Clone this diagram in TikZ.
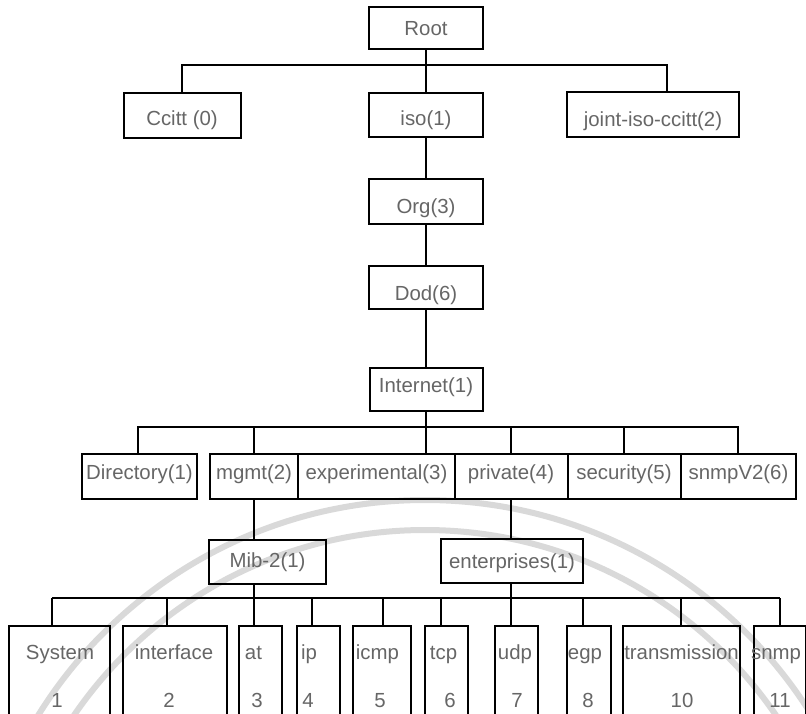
\documentclass[tikz,border=0pt]{standalone}
\usepackage{fontspec}
\setmainfont{Liberation Sans}
% shift a box label down by #1 pt without changing the box
\newcommand\lowered[2]{\raisebox{-#1pt}{#2}}
\begin{document}
\begin{tikzpicture}[x=1pt,y=-1pt,
  txt/.style={text=black!60, font=\fontsize{20.4}{24}\selectfont},
  box/.style={txt, draw=black, line width=2pt, inner sep=0pt,
              text height=14.6pt, text depth=0pt},
  wire/.style={line width=2pt, draw=black},
  lbl/.style={txt, inner sep=0pt, anchor=base},
  ring/.style={draw=black!15, line width=6pt}
]
\useasboundingbox (0,0) rectangle (806,714);
\clip (0,0) rectangle (806,714);
\fill[white] (0,0) rectangle (806,714);

% faint seal in the background
\draw[ring] (425,955) circle[radius=455pt];
\draw[ring] (425,955) circle[radius=425pt];

% top levels
\node[box, minimum width=114pt, minimum height=42pt] (root) at (426,28) {Root};
\node[box, minimum width=117pt, minimum height=45pt] (ccitt) at (182,115.5) {\lowered{2.5}{Ccitt (0)}};
\node[box, minimum width=114pt, minimum height=44pt] (iso) at (426,115) {\lowered{3.5}{iso(1)}};
\node[box, minimum width=172pt, minimum height=45pt] (joint) at (653,114.5) {\lowered{4.5}{joint-iso-ccitt(2)}};
\node[box, minimum width=114pt, minimum height=45pt] (org) at (426,201.5) {\lowered{5}{Org(3)}};
\node[box, minimum width=114pt, minimum height=43pt] (dod) at (426,287.5) {\lowered{6}{Dod(6)}};
\node[box, minimum width=113pt, minimum height=43pt] (internet) at (426,389.5) {\lowered{-4}{Internet(1)}};

% children of internet
\node[box, minimum width=115pt, minimum height=45pt] (dir) at (139.5,476.5) {\lowered{-4.5}{Directory(1)}};
\node[box, minimum width=88pt, minimum height=45pt] (mgmt) at (254,476.5) {\lowered{-4.5}{mgmt(2)}};
\node[box, minimum width=157pt, minimum height=45pt] (exp) at (376.5,476.5) {\lowered{-4.5}{experimental(3)}};
\node[box, minimum width=113pt, minimum height=45pt] (priv) at (511,476.5) {\lowered{-4.5}{private(4)}};
\node[box, minimum width=113pt, minimum height=45pt] (sec) at (624,476.5) {\lowered{-4.5}{security(5)}};
\node[box, minimum width=115pt, minimum height=45pt] (snmpv) at (738.5,476.5) {\lowered{-4.5}{snmpV2(6)}};

\node[box, minimum width=117pt, minimum height=44pt] (mib) at (267.5,562) {\lowered{-2}{Mib-2(1)}};
\node[box, minimum width=142pt, minimum height=44pt] (ent) at (512,561) {enterprises(1)};

% Mib-2 groups (open at the bottom edge)
\foreach \n/\x/\w in {sys/59.5/101, iface/175/104, atb/260.5/43, ipb/318.5/43,
                      icmp/382/58, tcp/446.5/43, udp/516.5/43, egp/589/44,
                      trans/681.5/117, snmp/779.5/52}
  \node[box, minimum width=\w pt, minimum height=134pt] (\n) at (\x,693) {};

\foreach \n/\x/\t in {sysT/60/System, ifaceT/174/interface, atT/253.5/at, ipT/309/ip,
                      icmpT/377.5/icmp, tcpT/443.5/tcp, udpT/515/udp, egpT/585/egp,
                      transT/681.5/transmission, snmpT/776/snmp}
  \node[lbl] (\n) at (\x,659) {\t};
\foreach \n/\x/\t in {sysN/57/1, ifaceN/169/2, atN/257/3, ipN/308/4, icmpN/380/5,
                      tcpN/450/6, udpN/517/7, egpN/588/8, transN/682/10, snmpN/780/11}
  \node[lbl] (\n) at (\x,707) {\t};

% connectors
\coordinate (busA) at (426,65);
\coordinate (busB) at (426,427);
\draw[wire] (root.south) -- (iso.north);
\draw[wire] (ccitt.north) |- (busA) -| ([xshift=14pt]joint.north);
\draw[wire] (iso.south) -- (org.north);
\draw[wire] (org.south) -- (dod.north);
\draw[wire] (dod.south) -- (internet.north);
\draw[wire] (internet.south) -- (internet.south |- exp.north);
\draw[wire] ([xshift=-1.5pt]dir.north) |- (busB) -| ([xshift=-0.5pt]snmpv.north);
\draw[wire] (mgmt.north) -- (mgmt.north |- busB);
\draw[wire] (priv.north) -- (priv.north |- busB);
\draw[wire] (sec.north) -- (sec.north |- busB);
\draw[wire] (mgmt.south) -- (mgmt.south |- mib.north);
\draw[wire] (priv.south) -- (priv.south |- ent.north);

\coordinate (d1) at (52,598);
\coordinate (d2) at (167,598);
\coordinate (d4) at (312,598);
\coordinate (d5) at (383,598);
\coordinate (d6) at (441,598);
\coordinate (d8) at (583,598);
\coordinate (d9) at (681,598);
\coordinate (d10) at (780,598);
\draw[wire] (d1) -- (d10);
\draw[wire] (mgmt.south |- mib.south) -- (mgmt.south |- atb.north);
\draw[wire] (priv.south |- ent.south) -- (priv.south |- udp.north);
\foreach \d/\b in {d1/sys, d2/iface, d4/ipb, d5/icmp, d6/tcp, d8/egp, d9/trans, d10/snmp}
  \draw[wire] (\d) -- (\d |- \b.north);
\end{tikzpicture}
\end{document}
